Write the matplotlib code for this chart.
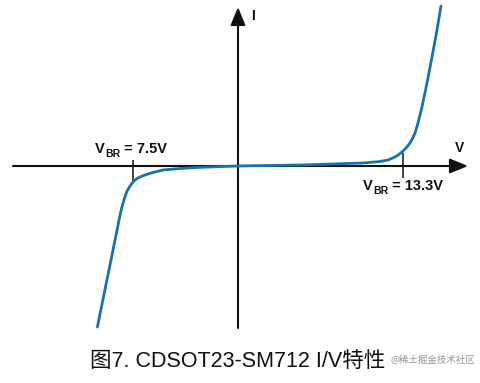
import matplotlib
matplotlib.use("Agg")
import matplotlib.pyplot as plt

# I/V curve (schematic units: V to the right, I upward, origin at axes crossing)
volts = [-139.6, -136.6, -133.7, -130.3, -127, -123.6, -120.3, -117.8, -115.3,
         -112.8, -110.3, -107, -103.7, -100, -96, -92, -86, -80, -74, -57,
         -40, -27, 0, 30, 63, 95, 126, 143, 151, 158, 162, 166, 169.5, 173,
         175.5, 178, 181, 185, 190, 195, 200, 204]
current = [-161, -146, -132, -115, -99, -82, -65.7, -53, -42,
           -33, -25.7, -20, -15.7, -12.5, -10.5, -9, -7, -5.5, -4, -2.5,
           -1.5, -1, 0, 0.5, 1, 2, 3, 4.5, 6, 9, 11.5, 15, 18.5, 23,
           27.5, 33, 43, 59, 83, 109, 136, 160]

vbr_pos = [-104, 166]
vbr_values = [" = 7.5V", " = 13.3V"]
caption = "图7. CDSOT23-SM712 I/V特性"
watermark = "@稀土掘金技术社区"

plt.rcParams['font.family'] = ['Liberation Sans', 'Noto Sans CJK SC', 'DejaVu Sans']

fig = plt.figure(figsize=(4.80, 3.83), dpi=100)
ax = fig.add_axes([0, 0, 1, 1])
ax.set_xlim(-237, 243)
ax.set_ylim(-217, 166)
ax.axis('off')

black = '#111111'
# axes with arrows
ax.annotate('', xy=(231, 0), xytext=(-224, 0),
            arrowprops=dict(arrowstyle='-|>,head_length=1.1,head_width=0.45',
                            color=black, lw=1.5, shrinkA=0, shrinkB=0))
ax.annotate('', xy=(1, 159), xytext=(1, -162),
            arrowprops=dict(arrowstyle='-|>,head_length=1.1,head_width=0.45',
                            color=black, lw=1.5, shrinkA=0, shrinkB=0))

# curve
ax.plot(volts, current, color='#1673ad', lw=2.0, solid_capstyle='round',
        solid_joinstyle='round', zorder=3)

# breakdown ticks
ax.vlines(vbr_pos[0], -16, 6, color=black, lw=1.1, zorder=2)
ax.vlines(vbr_pos[1], -12, 13, color=black, lw=1.1, zorder=2)


def vbr_label(x_left, y_base, value):
    t1 = ax.text(x_left, y_base, "V", fontsize=10.5, fontweight='bold',
                 ha='left', va='baseline', color=black)
    t2 = ax.annotate("BR", xy=(1, 0), xycoords=t1, xytext=(0.2, -2.5),
                     textcoords='offset points', fontsize=7.5, fontweight='bold',
                     ha='left', va='bottom', color=black)
    ax.annotate(value, xy=(1, 0), xycoords=t2, xytext=(0, 2.5),
                textcoords='offset points', fontsize=10.5, fontweight='bold',
                ha='left', va='bottom', color=black)


vbr_label(vbr_pos[0] - 38, 13, vbr_values[0])
vbr_label(vbr_pos[1] - 40, -24, vbr_values[1])

ax.text(16, 150, 'I', fontsize=10, fontweight='bold', ha='center', va='center', color=black)
ax.text(223, 18, 'V', fontsize=10, fontweight='bold', ha='center', va='center', color=black)

ax.text(1, -195, caption, fontsize=15.5, ha='center', va='center', color='#111111',
        family=['Liberation Sans', 'Noto Sans CJK SC', 'DejaVu Sans'])
ax.text(196, -194, watermark, fontsize=6.8, ha='center', va='center', color='#8a8a8a',
        alpha=0.9, family=['Noto Sans CJK SC', 'DejaVu Sans'])

fig.savefig('out.png', dpi=100)
